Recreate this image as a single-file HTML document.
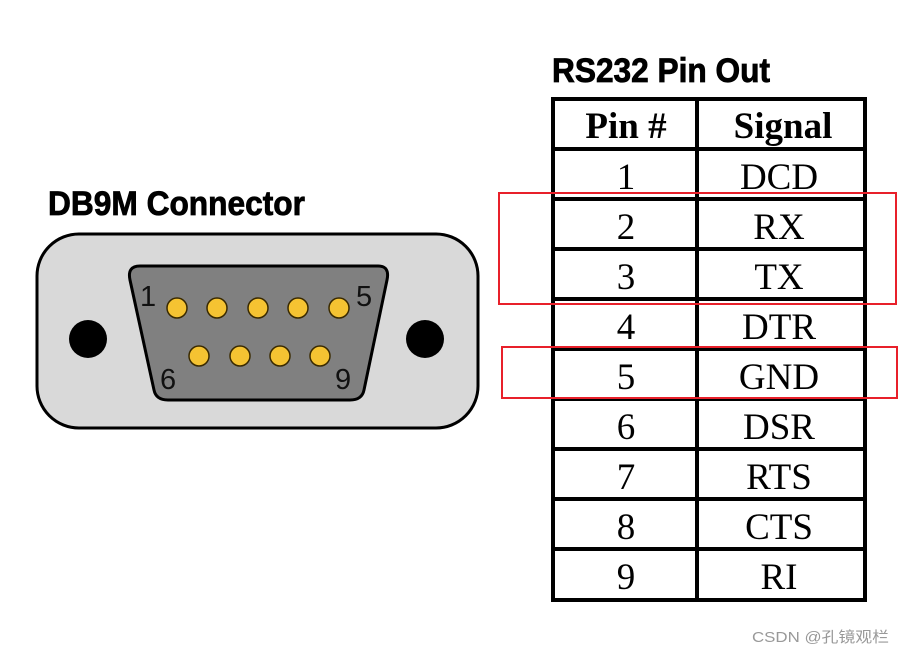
<!DOCTYPE html>
<html><head><meta charset="utf-8"><style>
body{margin:0;background:#fff;}
svg{display:block}
</style></head><body>
<svg width="904" height="655" viewBox="0 0 904 655" xmlns="http://www.w3.org/2000/svg">
<rect width="904" height="655" fill="#fff"/>
<text x="48" y="215" font-family="Liberation Sans, sans-serif" font-weight="bold" font-size="34" stroke="#000" stroke-width="0.8" textLength="257" lengthAdjust="spacingAndGlyphs">DB9M Connector</text>
<text x="552" y="82" font-family="Liberation Sans, sans-serif" font-weight="bold" font-size="34" stroke="#000" stroke-width="0.8" textLength="218" lengthAdjust="spacingAndGlyphs">RS232 Pin Out</text>
<rect x="37" y="234" width="441" height="194" rx="42" fill="#d9d9d9" stroke="#000" stroke-width="3"/>
<path d="M140,266 L378,266 Q390,266 387,280 L364,390 Q362,400 350,400 L168,400 Q156,400 154,390 L130,280 Q127,266 140,266 Z" fill="#808080" stroke="#000" stroke-width="3"/>
<circle cx="88" cy="339" r="19" fill="#000"/>
<circle cx="425" cy="339" r="19" fill="#000"/>
<g fill="#f5c332" stroke="#3a2a00" stroke-width="1.5">
<circle cx="177" cy="308" r="10"/><circle cx="217" cy="308" r="10"/><circle cx="258" cy="308" r="10"/><circle cx="298" cy="308" r="10"/><circle cx="339" cy="308" r="10"/>
<circle cx="199" cy="356" r="10"/><circle cx="240" cy="356" r="10"/><circle cx="280" cy="356" r="10"/><circle cx="320" cy="356" r="10"/>
</g>
<g font-family="Liberation Sans, sans-serif" font-size="29" fill="#111">
<text x="140" y="306">1</text><text x="356" y="306">5</text>
<text x="160" y="389">6</text><text x="335" y="389">9</text>
</g>
<g stroke="#000" stroke-width="4" fill="none">
<rect x="553" y="99" width="312" height="501"/>
<line x1="697" y1="99" x2="697" y2="600"/>
<line x1="553" y1="149" x2="865" y2="149"/>
<line x1="553" y1="199" x2="865" y2="199"/>
<line x1="553" y1="249" x2="865" y2="249"/>
<line x1="553" y1="299" x2="865" y2="299"/>
<line x1="553" y1="349" x2="865" y2="349"/>
<line x1="553" y1="399" x2="865" y2="399"/>
<line x1="553" y1="449" x2="865" y2="449"/>
<line x1="553" y1="499" x2="865" y2="499"/>
<line x1="553" y1="549" x2="865" y2="549"/>
</g>
<g font-family="Liberation Serif, serif" font-size="37" text-anchor="middle" fill="#000">
<text x="626" y="138" font-weight="bold">Pin #</text><text x="783" y="138" font-weight="bold">Signal</text>
<text x="626" y="189">1</text><text x="779" y="189">DCD</text>
<text x="626" y="239">2</text><text x="779" y="239">RX</text>
<text x="626" y="289">3</text><text x="779" y="289">TX</text>
<text x="626" y="339">4</text><text x="779" y="339">DTR</text>
<text x="626" y="389">5</text><text x="779" y="389">GND</text>
<text x="626" y="439">6</text><text x="779" y="439">DSR</text>
<text x="626" y="489">7</text><text x="779" y="489">RTS</text>
<text x="626" y="539">8</text><text x="779" y="539">CTS</text>
<text x="626" y="589">9</text><text x="779" y="589">RI</text>
</g>
<rect x="499" y="193" width="397" height="111" fill="none" stroke="#e8202a" stroke-width="2"/>
<rect x="502" y="347" width="395" height="51" fill="none" stroke="#e8202a" stroke-width="2"/>
<text x="752" y="642" font-family="Liberation Sans, Noto Sans CJK SC, sans-serif" font-size="15" fill="#999" textLength="137" lengthAdjust="spacingAndGlyphs">CSDN @孔镜观栏</text>
</svg>
</body></html>
